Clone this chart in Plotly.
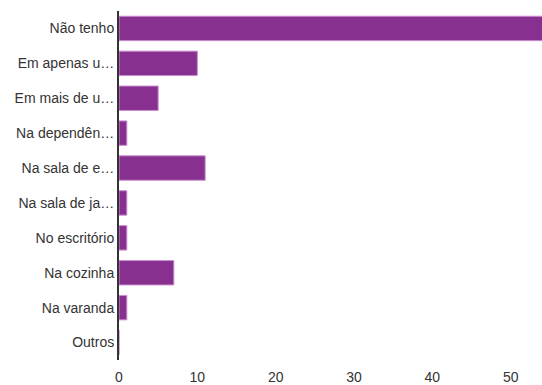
import plotly.graph_objects as go

categories = ["Não tenho", "Em apenas u…", "Em mais de u…", "Na dependên…", "Na sala de e…",
              "Na sala de ja…", "No escritório", "Na cozinha", "Na varanda", "Outros"]
values = [55, 10, 5, 1, 11, 1, 1, 7, 1, 0]
x_ticks = [0, 10, 20, 30, 40, 50]

fig = go.Figure(go.Bar(
    x=values, y=categories, orientation="h",
    marker=dict(color="#88308f", line=dict(color="#c98fd0", width=1)),
))
fig.update_layout(
    width=542, height=385,
    margin=dict(l=119, r=0, t=11, b=23),
    paper_bgcolor="white", plot_bgcolor="white",
    bargap=0.3, showlegend=False,
    font=dict(family="Liberation Sans, Arial, sans-serif", size=14, color="#333333"),
)
fig.update_xaxes(range=[0, 54], tickvals=x_ticks, showgrid=False, zeroline=False,
                 showline=False, ticks="outside", ticklen=4, tickcolor="white")
fig.update_yaxes(autorange="reversed", showgrid=False, zeroline=False,
                 showline=True, linecolor="#333333", linewidth=2, ticks="")
fig.write_html("out.html", config={"displayModeBar": False},
               post_script="document.body.style.margin='0';")
